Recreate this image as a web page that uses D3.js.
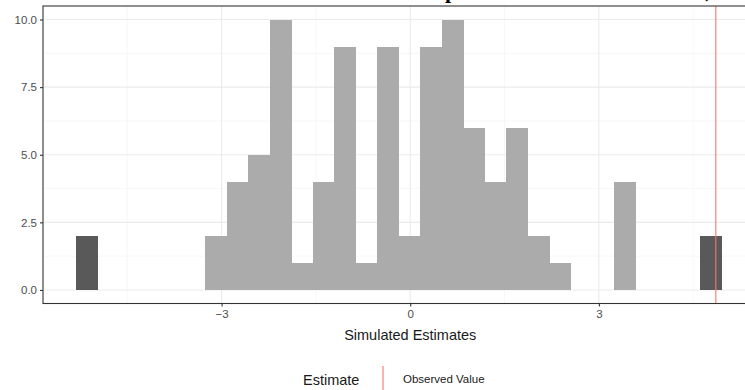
<!DOCTYPE html>
<html>
<head>
<meta charset="utf-8">
<script src="https://cdn.jsdelivr.net/npm/d3@7"></script>
<style>
  body { margin: 0; background: #fff; }
  svg { display: block; font-family: "Liberation Sans", Arial, sans-serif; }
</style>
</head>
<body>
<div id="chart"></div>
<script>
// histogram bins (lower edges), counts, and which bins are highlighted
const binStarts = [-5.312, -4.970, -4.628, -4.286, -3.944, -3.603, -3.261, -2.919, -2.577, -2.235,
                   -1.893, -1.551, -1.209, -0.868, -0.526, -0.184, 0.158, 0.500, 0.842, 1.184,
                   1.526, 1.867, 2.209, 2.551, 2.893, 3.235, 3.577, 3.919, 4.261, 4.603];
const binWidth = 0.342;
const counts = [2, 0, 0, 0, 0, 0, 2, 4, 5, 10,
                1, 4, 9, 1, 9, 2, 9, 10, 6, 4,
                6, 2, 1, 0, 0, 4, 0, 0, 0, 2];
const highlighted = [true, false, false, false, false, false, false, false, false, false,
                     false, false, false, false, false, false, false, false, false, false,
                     false, false, false, false, false, false, false, false, false, true];
const observedValue = 4.86;
const xTicks = [-3, 0, 3];
const xMinor = [-4.5, -1.5, 1.5, 4.5];
const yTicks = [0, 2.5, 5, 7.5, 10];
const yMinor = [1.25, 3.75, 6.25, 8.75];

const width = 745, height = 390;
const panel = { left: 43, top: 6, right: 765, bottom: 303.5 };

const svg = d3.select('#chart').append('svg')
  .attr('width', width)
  .attr('height', height);

const x = d3.scaleLinear().domain([-5.84, 5.6]).range([panel.left, panel.left + 11.44 * 62.88]);
const y = d3.scaleLinear().domain([-0.5, 10.5]).range([panel.bottom, panel.top]);

// panel background
svg.append('rect')
  .attr('x', panel.left).attr('y', panel.top)
  .attr('width', panel.right - panel.left).attr('height', panel.bottom - panel.top)
  .style('fill', 'white');

// grid
const grid = svg.append('g');
grid.selectAll('.ymin').data(yMinor).enter().append('line')
  .attr('x1', panel.left).attr('x2', panel.right)
  .attr('y1', d => y(d)).attr('y2', d => y(d))
  .style('stroke', '#f2f2f2').style('stroke-width', 0.6);
grid.selectAll('.xmin').data(xMinor).enter().append('line')
  .attr('x1', d => x(d)).attr('x2', d => x(d))
  .attr('y1', panel.top).attr('y2', panel.bottom)
  .style('stroke', '#f2f2f2').style('stroke-width', 0.6);
grid.selectAll('.ymaj').data(yTicks).enter().append('line')
  .attr('x1', panel.left).attr('x2', panel.right)
  .attr('y1', d => y(d)).attr('y2', d => y(d))
  .style('stroke', '#ebebeb').style('stroke-width', 1.1);
grid.selectAll('.xmaj').data(xTicks).enter().append('line')
  .attr('x1', d => x(d)).attr('x2', d => x(d))
  .attr('y1', panel.top).attr('y2', panel.bottom)
  .style('stroke', '#ebebeb').style('stroke-width', 1.1);

// bars
const bins = binStarts.map((b, i) => ({ x0: b, count: counts[i], dark: highlighted[i] }));
svg.append('g').selectAll('rect')
  .data(bins.filter(d => d.count > 0))
  .enter().append('rect')
  .attr('x', d => x(d.x0))
  .attr('width', d => x(d.x0 + binWidth) - x(d.x0) + 0.4)
  .attr('y', d => y(d.count))
  .attr('height', d => y(0) - y(d.count))
  .attr('shape-rendering', 'crispEdges')
  .style('fill', d => d.dark ? '#595959' : '#ababab');

// observed value line
svg.append('line')
  .attr('x1', x(observedValue)).attr('x2', x(observedValue))
  .attr('y1', panel.top).attr('y2', panel.bottom)
  .style('stroke', '#F8766D').style('stroke-width', 1.1);

// panel border
svg.append('rect')
  .attr('x', panel.left).attr('y', panel.top)
  .attr('width', panel.right - panel.left).attr('height', panel.bottom - panel.top)
  .style('fill', 'none').style('stroke', '#333333').style('stroke-width', 1.1);

// axes
const xAxis = svg.append('g')
  .attr('transform', `translate(0,${panel.bottom})`)
  .call(d3.axisBottom(x).tickValues(xTicks).tickSize(3).tickPadding(3).tickFormat(d3.format('d')));
const yAxis = svg.append('g')
  .attr('transform', `translate(${panel.left},0)`)
  .call(d3.axisLeft(y).tickValues(yTicks).tickSize(3).tickPadding(3).tickFormat(d3.format('.1f')));
[xAxis, yAxis].forEach(a => {
  a.select('.domain').remove();
  a.selectAll('.tick line').style('stroke', '#333333').style('stroke-width', 1.1);
  a.selectAll('.tick text').style('fill', '#4d4d4d').style('font-size', '11.5px')
    .style('font-family', '"Liberation Sans", Arial, sans-serif');
});

// axis title
svg.append('text')
  .attr('x', x(0)).attr('y', 340)
  .attr('text-anchor', 'middle')
  .style('font-size', '14.5px').style('fill', '#1a1a1a')
  .text('Simulated Estimates');

// legend
svg.append('text')
  .attr('x', 303).attr('y', 385)
  .style('font-size', '14.5px').style('fill', '#1a1a1a')
  .text('Estimate');
svg.append('line')
  .attr('x1', 383).attr('x2', 383).attr('y1', 366).attr('y2', 390)
  .style('stroke', '#F8766D').style('stroke-width', 1.1);
svg.append('text')
  .attr('x', 403).attr('y', 383)
  .style('font-size', '11.5px').style('fill', '#1a1a1a')
  .text('Observed Value');

// cut-off caption fragments at the very top
svg.append('text')
  .attr('x', 445).attr('y', -2)
  .style('font-family', '"Liberation Serif", serif').style('font-weight', 'bold')
  .style('font-size', '22px').style('fill', '#000')
  .text('p');
svg.append('text')
  .attr('x', 705).attr('y', -3)
  .style('font-family', '"Liberation Serif", serif').style('font-weight', 'bold')
  .style('font-size', '22px').style('fill', '#000')
  .text(')');
</script>
</body>
</html>
